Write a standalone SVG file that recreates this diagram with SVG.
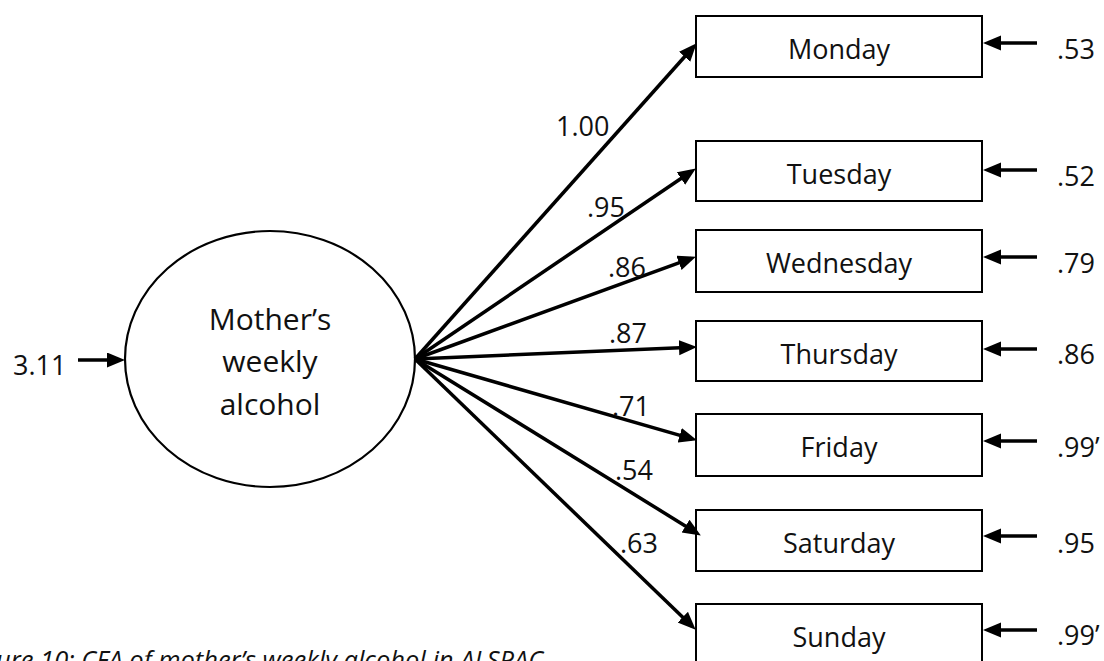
<svg xmlns="http://www.w3.org/2000/svg" width="1104" height="661" viewBox="0 0 1104 661">
  <style>
    .box { fill: #ffffff; stroke: #000000; stroke-width: 2; }
    .latent { fill: #ffffff; stroke: #000000; stroke-width: 2.2; }
    .lbl { font-family: "Open Sans", "Noto Sans", sans-serif; font-size: 27px; fill: #111111; }
    .big { font-size: 30px; }
    .mid { text-anchor: middle; }
    .edge { stroke: #000000; stroke-width: 3.5; fill: none; marker-end: url(#head); }
    .cap { font-family: "Open Sans", "Noto Sans", sans-serif; font-size: 25.5px; font-style: italic; fill: #111111; }
  </style>
  <defs>
    <marker id="head" markerUnits="userSpaceOnUse" markerWidth="19" markerHeight="16" refX="13" refY="7.5" orient="auto">
      <path d="M0,0 L18,7.5 L0,15 Z" fill="#000000"/>
    </marker>
  </defs>

  <rect width="1104" height="661" fill="#ffffff"/>

  <!-- latent factor -->
  <g id="latent">
    <ellipse class="latent" cx="270" cy="359" rx="145" ry="128"/>
    <text class="lbl big mid" x="270" y="330">Mother’s</text>
    <text class="lbl big mid" x="270" y="372">weekly</text>
    <text class="lbl big mid" x="270" y="415">alcohol</text>
  </g>

  <!-- observed indicators -->
  <g id="monday">
    <rect class="box" x="696" y="16" width="286" height="61"/>
    <text class="lbl mid" x="839" y="59">Monday</text>
  </g>
  <g id="tuesday">
    <rect class="box" x="696" y="141" width="286" height="60"/>
    <text class="lbl mid" x="839" y="184">Tuesday</text>
  </g>
  <g id="wednesday">
    <rect class="box" x="696" y="230" width="286" height="62"/>
    <text class="lbl mid" x="839" y="273">Wednesday</text>
  </g>
  <g id="thursday">
    <rect class="box" x="696" y="321" width="286" height="60"/>
    <text class="lbl mid" x="839" y="364">Thursday</text>
  </g>
  <g id="friday">
    <rect class="box" x="696" y="414" width="286" height="62"/>
    <text class="lbl mid" x="839" y="457">Friday</text>
  </g>
  <g id="saturday">
    <rect class="box" x="696" y="510" width="286" height="61"/>
    <text class="lbl mid" x="839" y="553">Saturday</text>
  </g>
  <g id="sunday">
    <rect class="box" x="696" y="604" width="286" height="61"/>
    <text class="lbl mid" x="839" y="647">Sunday</text>
  </g>

  <!-- connectors: loadings, factor variance, residuals -->
  <g id="connectors">
    <line class="edge" x1="415" y1="359" x2="693.3" y2="47.0"/>
    <line class="edge" x1="415" y1="359" x2="691.7" y2="171.2"/>
    <line class="edge" x1="415" y1="359" x2="691.2" y2="258.4"/>
    <line class="edge" x1="415" y1="359" x2="692.0" y2="347.2"/>
    <line class="edge" x1="415" y1="359" x2="692.2" y2="438.9"/>
    <line class="edge" x1="415" y1="359" x2="696.6" y2="532.9"/>
    <line class="edge" x1="415" y1="359" x2="692.1" y2="626.2"/>

    <line class="edge" x1="78" y1="360" x2="120" y2="360"/>

    <line class="edge" x1="1037" y1="43" x2="988" y2="43"/>
    <line class="edge" x1="1037" y1="170" x2="988" y2="170"/>
    <line class="edge" x1="1037" y1="257" x2="988" y2="257"/>
    <line class="edge" x1="1037" y1="349" x2="988" y2="349"/>
    <line class="edge" x1="1037" y1="441" x2="988" y2="441"/>
    <line class="edge" x1="1037" y1="536" x2="988" y2="536"/>
    <line class="edge" x1="1037" y1="630" x2="988" y2="630"/>
  </g>

  <!-- loading labels -->
  <g id="loadings">
    <text class="lbl" x="556" y="136">1.00</text>
    <text class="lbl" x="587" y="217">.95</text>
    <text class="lbl" x="608" y="277">.86</text>
    <text class="lbl" x="609" y="343">.87</text>
    <text class="lbl" x="612" y="416">.71</text>
    <text class="lbl" x="615" y="480">.54</text>
    <text class="lbl" x="620" y="553">.63</text>
  </g>

  <!-- variance labels -->
  <g id="variances">
    <text class="lbl" x="13" y="375">3.11</text>
    <text class="lbl" x="1057" y="59">.53</text>
    <text class="lbl" x="1057" y="186">.52</text>
    <text class="lbl" x="1057" y="273">.79</text>
    <text class="lbl" x="1057" y="364">.86</text>
    <text class="lbl" x="1057" y="457">.99’</text>
    <text class="lbl" x="1057" y="553">.95</text>
    <text class="lbl" x="1057" y="645">.99’</text>
  </g>

  <text class="cap" x="-4" y="669">ure 10: CFA of mother’s weekly alcohol in ALSPAC</text>
</svg>
